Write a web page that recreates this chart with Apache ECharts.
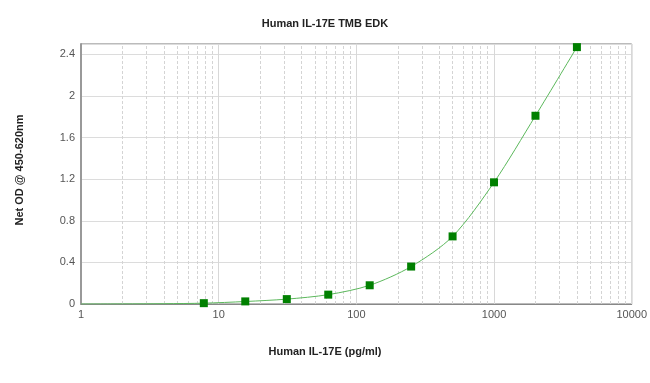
<!DOCTYPE html>
<html>
<head>
<meta charset="utf-8">
<script src="https://cdn.jsdelivr.net/npm/echarts@6/dist/echarts.min.js"></script>
<style>html,body{margin:0;padding:0;background:#fff}#c{width:650px;height:383px}</style>
</head>
<body>
<div id="c"></div>
<script>
// Standard concentrations (pg/ml) and measured OD
var concentrations = [7.8, 15.6, 31.25, 62.5, 125, 250, 500, 1000, 2000, 4000];
var odValues = [0.008, 0.025, 0.047, 0.09, 0.18, 0.36, 0.65, 1.17, 1.81, 2.47];
// Fitted curve
var curveX = [1, 2, 4, 7.8, 15.6, 31.25, 62.5, 125, 250, 500, 1000, 2000, 4000];
var curveY = [0.0, 0.001, 0.003, 0.008, 0.024, 0.047, 0.09, 0.18, 0.36, 0.65, 1.17, 1.81, 2.47];
// Minor vertical grid positions
var minorGridX = [2,3,4,5,6,7,8,9,20,30,40,50,60,70,80,90,200,300,400,500,600,700,800,900,2000,3000,4000,5000,6000,7000,8000,9000];
var yTicks = [0, 0.4, 0.8, 1.2, 1.6, 2, 2.4];

var chart = echarts.init(document.getElementById('c'), null, {renderer: 'canvas'});
var font = 'Liberation Sans, Arial, sans-serif';
chart.setOption({
  animation: false,
  backgroundColor: '#fff',
  title: {
    text: 'Human IL-17E TMB EDK',
    left: 'center', top: 13,
    textStyle: {fontFamily: font, fontSize: 11, fontWeight: 'bold', color: '#222'}
  },
  grid: {left: 81, right: 16, top: 44, bottom: 79, show: true, borderColor: '#777', borderWidth: 1, backgroundColor: 'transparent'},
  xAxis: {
    type: 'log', logBase: 10, min: 1, max: 10000,
    axisLine: {show: true, lineStyle: {color: '#888', width: 1}},
    axisTick: {show: false},
    axisLabel: {fontFamily: font, fontSize: 11, color: '#555', margin: 5,
      formatter: function (v) { return String(Math.round(v)); }},
    splitLine: {show: true, lineStyle: {color: '#d8d8d8', width: 1}}
  },
  yAxis: {
    type: 'value', min: 0, max: 2.5, interval: 0.4,
    axisLine: {show: true, lineStyle: {color: '#999', width: 2}},
    axisTick: {show: false},
    axisLabel: {fontFamily: font, fontSize: 11, color: '#555', margin: 6, showMaxLabel: false,
      formatter: function (v) { return yTicks.indexOf(Math.round(v*10)/10) >= 0 ? String(Math.round(v*10)/10) : ''; }},
    splitLine: {show: true, lineStyle: {color: '#dcdcdc', width: 1}}
  },
  graphic: [
    {type: 'text', left: 'center', top: 346, style: {text: 'Human IL-17E (pg/ml)', fontFamily: font, fontSize: 11, fontWeight: 'bold', fill: '#222'}},
    {type: 'text', rotation: Math.PI/2, x: 20, y: 170,
      style: {text: 'Net OD @ 450-620nm', fontFamily: font, fontSize: 11, fontWeight: 'bold', fill: '#222', align: 'center', verticalAlign: 'middle'}}
  ],
  series: [
    {
      type: 'line', name: 'minorGrid', data: [], silent: true, z: 0,
      markLine: {
        silent: true, symbol: 'none', label: {show: false}, z: 0,
        lineStyle: {color: '#d4d4d4', type: [3, 2], width: 1},
        emphasis: {disabled: true},
        data: minorGridX.map(function (v) { return {xAxis: v}; })
      }
    },
    {
      type: 'line', name: 'fit', smooth: 0.3, showSymbol: false, silent: true,
      data: curveX.map(function (x, i) { return [x, curveY[i]]; }),
      lineStyle: {color: '#5cb85c', width: 1},
      z: 4
    },
    {
      type: 'scatter', name: 'std', symbol: 'rect', symbolSize: 8,
      data: concentrations.map(function (x, i) { return [x, odValues[i]]; }),
      itemStyle: {color: '#008000', opacity: 1},
      z: 10
    }
  ]
});
</script>
</body>
</html>
